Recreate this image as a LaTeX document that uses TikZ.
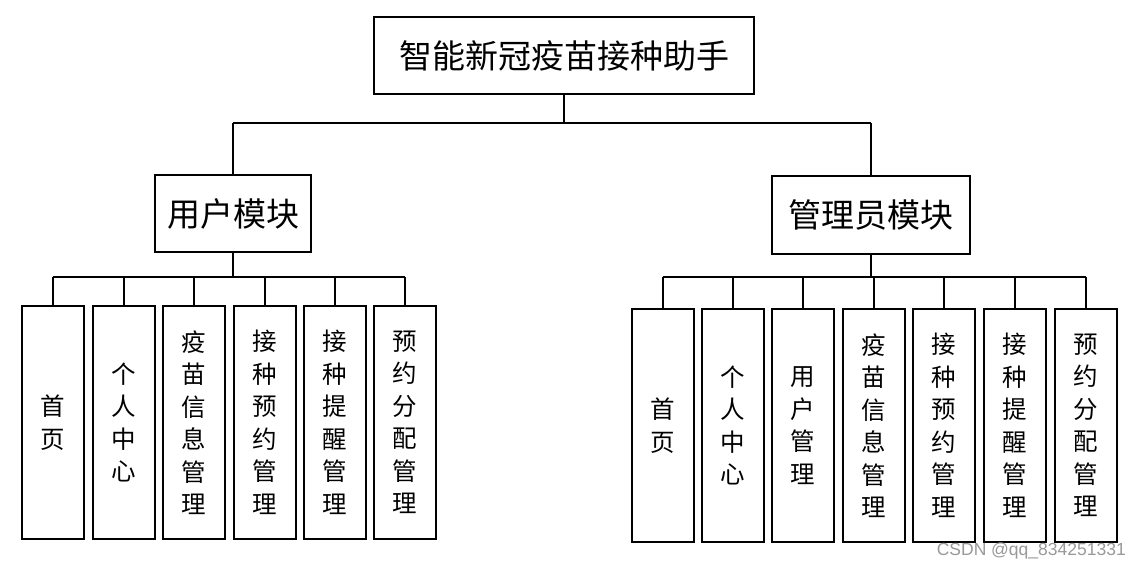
\documentclass[tikz,border=0pt]{standalone}
\usepackage{fontspec}
\newfontfamily\cjk{Noto Sans CJK SC}
\newfontfamily\wm{Liberation Sans}
\begin{document}
\begin{tikzpicture}[x=1pt,y=-1pt,
  box/.style={draw, line width=2pt, inner sep=0pt, font=\cjk\fontsize{33}{33}\selectfont},
  leaf/.style={draw, line width=2pt, minimum width=62pt, minimum height=233pt, inner sep=0pt, align=center, font=\cjk\fontsize{24.5}{32.5}\selectfont},
  link/.style={line width=2pt},
  trunk/.style={line width=2.6pt}]
\useasboundingbox (0,0) rectangle (1140,569);
\fill[white] (0,0) rectangle (1140,569);
\node[box, minimum width=380pt, minimum height=77pt] (top) at (564,55.5) {智能新冠疫苗接种助手};
\node[box, minimum width=156pt, minimum height=77pt] (um) at (233,214) {用户模块};
\node[box, minimum width=198pt, minimum height=78pt] (am) at (871,215) {管理员模块};
% user leaves
\node[leaf] (u1) at (53,422.5) {首\\页};
\node[leaf] (u2) at (123.5,422.5) {个\\人\\中\\心};
\node[leaf] (u3) at (194,422.5) {疫\\苗\\信\\息\\管\\理};
\node[leaf] (u4) at (264.5,422.5) {接\\种\\预\\约\\管\\理};
\node[leaf] (u5) at (334.5,422.5) {接\\种\\提\\醒\\管\\理};
\node[leaf] (u6) at (404.5,422.5) {预\\约\\分\\配\\管\\理};
% admin leaves
\node[leaf] (a1) at (662.5,425.5) {首\\页};
\node[leaf] (a2) at (733,425.5) {个\\人\\中\\心};
\node[leaf] (a3) at (803,425.5) {用\\户\\管\\理};
\node[leaf] (a4) at (873.5,425.5) {疫\\苗\\信\\息\\管\\理};
\node[leaf] (a5) at (944,425.5) {接\\种\\预\\约\\管\\理};
\node[leaf] (a6) at (1014.5,425.5) {接\\种\\提\\醒\\管\\理};
\node[leaf] (a7) at (1086,425.5) {预\\约\\分\\配\\管\\理};
% bus coordinates
\coordinate (tb) at (0,123);
\coordinate (ub) at (0,277);
\coordinate (ab) at (0,277);
% top connectors
\draw[trunk] (top.south) -- (top.south |- tb);
\draw[link] (um.north |- tb) -- (am.north |- tb);
\draw[link] (um.north) -- (um.north |- tb);
\draw[link] (am.north) -- (am.north |- tb);
% user connectors
\draw[trunk] (um.south) -- (um.south |- ub);
\draw[link] (u1.north |- ub) -- (u6.north |- ub);
\foreach \n in {u1,u2,u3,u4,u5,u6} \draw[link] (\n.north) -- (\n.north |- ub);
% admin connectors
\draw[trunk] (am.south) -- (am.south |- ab);
\draw[link] (a1.north |- ab) -- (a7.north |- ab);
\foreach \n in {a1,a2,a3,a4,a5,a6,a7} \draw[link] (\n.north) -- (\n.north |- ab);
% watermark
\node[anchor=east, inner sep=0pt, text=black!40, font=\wm\fontsize{17.5}{17.5}\selectfont] (wmk) at (1126,551) {CSDN @qq\_834251331};
\end{tikzpicture}
\end{document}
